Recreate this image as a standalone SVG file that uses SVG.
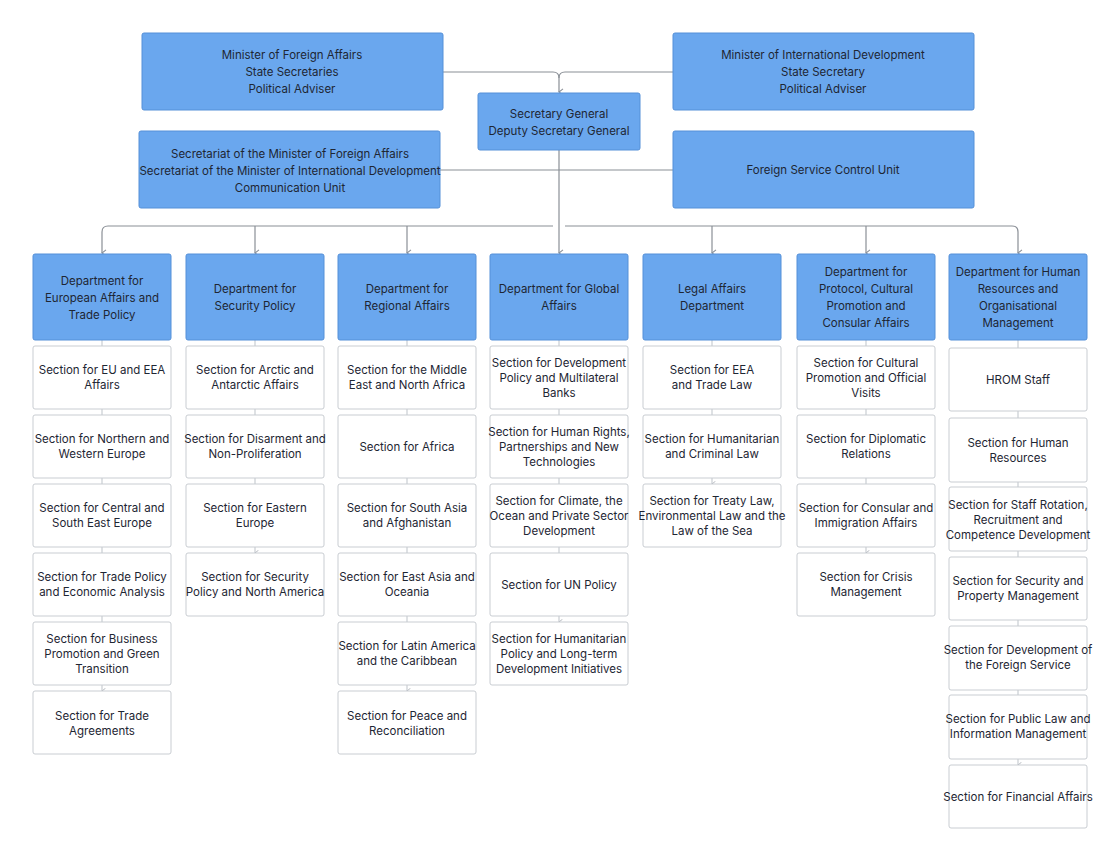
<svg xmlns="http://www.w3.org/2000/svg" width="1120" height="861" viewBox="0 0 1120 861">
<defs>
<style>
text{font-family:Inter,"Noto Sans",sans-serif;font-size:11.5px;fill:#1e2633;text-anchor:middle}
.b{fill:#6aa7ee;stroke:#5590d8;stroke-width:1}
.s{fill:#fff;stroke:#c9cdd2;stroke-width:1}
.c{fill:none;stroke:#8a8f96;stroke-width:1.2}
.l{fill:none;stroke:#c9cdd2;stroke-width:1.2}
</style>
<marker id="a" viewBox="0 0 10 10" refX="5" refY="9" markerWidth="8" markerHeight="8" orient="auto-start-reverse" markerUnits="userSpaceOnUse"><path d="M1,4 L5,9 L9,4" fill="none" stroke="#8a8f96" stroke-width="1.3"/></marker>
<marker id="a2" viewBox="0 0 10 10" refX="5" refY="9" markerWidth="7" markerHeight="7" orient="auto" markerUnits="userSpaceOnUse"><path d="M1,4 L5,9 L9,4" fill="none" stroke="#b0b5bb" stroke-width="1.3"/></marker>
</defs>
<rect width="1120" height="861" fill="#fff"/>
<g id="connectors">
<path class="c" d="M443,72 H553 Q559,72 559,78 V92" marker-end="url(#a)"/>
<path class="c" d="M673,72 H565 Q559,72 559,78"/>
<path class="c" d="M440,170 H673"/>
<path class="c" d="M559,150 V253" marker-end="url(#a)"/>
<path class="c" d="M553,226 H108 Q102,226 102,232 V253" marker-end="url(#a)"/>
<path class="c" d="M565,226 H1012 Q1018,226 1018,232 V253" marker-end="url(#a)"/>
<path class="c" d="M255,226 V253" marker-end="url(#a)"/>
<path class="c" d="M407,226 V253" marker-end="url(#a)"/>
<path class="c" d="M712,226 V253" marker-end="url(#a)"/>
<path class="c" d="M866,226 V253" marker-end="url(#a)"/>
<g class="l">
<path d="M102,340V346M102,409V415M102,478V484M102,547V553M102,616V622"/><path d="M102,685V691" marker-end="url(#a2)"/>
<path d="M255,340V346M255,409V415M255,478V484"/><path d="M255,547V553" marker-end="url(#a2)"/>
<path d="M407,340V346M407,409V415M407,478V484M407,547V553M407,616V622"/><path d="M407,685V691" marker-end="url(#a2)"/>
<path d="M559,340V346M559,409V415M559,478V484M559,547V553"/><path d="M559,616V622" marker-end="url(#a2)"/>
<path d="M712,340V346M712,409V415"/><path d="M712,478V484" marker-end="url(#a2)"/>
<path d="M866,340V346M866,409V415M866,478V484"/><path d="M866,547V553" marker-end="url(#a2)"/>
<path d="M1018,340V348M1018,411V418M1018,482V487M1018,551V557M1018,620V626M1018,690V695"/><path d="M1018,759V765" marker-end="url(#a2)"/>
</g>
</g>
<g id="top">
<g id="mfa"><rect class="b" x="142" y="33" width="301" height="77" rx="2"/><text x="292" y="59">Minister of Foreign Affairs</text><text x="292" y="76">State Secretaries</text><text x="292" y="93">Political Adviser</text></g>
<g id="mid"><rect class="b" x="673" y="33" width="301" height="77" rx="2"/><text x="823" y="59">Minister of International Development</text><text x="823" y="76">State Secretary</text><text x="823" y="93">Political Adviser</text></g>
<g id="sg"><rect class="b" x="478" y="93" width="162" height="57" rx="2"/><text x="559" y="118">Secretary General</text><text x="559" y="135">Deputy Secretary General</text></g>
<g id="sec"><rect class="b" x="139" y="131" width="301" height="77" rx="2"/><text x="290" y="158">Secretariat of the Minister of Foreign Affairs</text><text x="290" y="175">Secretariat of the Minister of International Development</text><text x="290" y="192">Communication Unit</text></g>
<g id="fscu"><rect class="b" x="673" y="131" width="301" height="77" rx="2"/><text x="823" y="174">Foreign Service Control Unit</text></g>
</g>
<g id="departments">
<g id="d1"><rect class="b" x="33" y="254" width="138" height="86" rx="2"/><text x="102" y="285">Department for</text><text x="102" y="302">European Affairs and</text><text x="102" y="319">Trade Policy</text></g>
<g id="d2"><rect class="b" x="186" y="254" width="138" height="86" rx="2"/><text x="255" y="293">Department for</text><text x="255" y="310">Security Policy</text></g>
<g id="d3"><rect class="b" x="338" y="254" width="138" height="86" rx="2"/><text x="407" y="293">Department for</text><text x="407" y="310">Regional Affairs</text></g>
<g id="d4"><rect class="b" x="490" y="254" width="138" height="86" rx="2"/><text x="559" y="293">Department for Global</text><text x="559" y="310">Affairs</text></g>
<g id="d5"><rect class="b" x="643" y="254" width="138" height="86" rx="2"/><text x="712" y="293">Legal Affairs</text><text x="712" y="310">Department</text></g>
<g id="d6"><rect class="b" x="797" y="254" width="138" height="86" rx="2"/><text x="866" y="276">Department for</text><text x="866" y="293">Protocol, Cultural</text><text x="866" y="310">Promotion and</text><text x="866" y="327">Consular Affairs</text></g>
<g id="d7"><rect class="b" x="949" y="254" width="138" height="86" rx="2"/><text x="1018" y="276">Department for Human</text><text x="1018" y="293">Resources and</text><text x="1018" y="310">Organisational</text><text x="1018" y="327">Management</text></g>
</g>
<g id="sections">
<g><rect class="s" x="33" y="346" width="138" height="63" rx="2"/><text x="102" y="374">Section for EU and EEA</text><text x="102" y="389">Affairs</text></g>
<g><rect class="s" x="33" y="415" width="138" height="63" rx="2"/><text x="102" y="443">Section for Northern and</text><text x="102" y="458">Western Europe</text></g>
<g><rect class="s" x="33" y="484" width="138" height="63" rx="2"/><text x="102" y="512">Section for Central and</text><text x="102" y="527">South East Europe</text></g>
<g><rect class="s" x="33" y="553" width="138" height="63" rx="2"/><text x="102" y="581">Section for Trade Policy</text><text x="102" y="596">and Economic Analysis</text></g>
<g><rect class="s" x="33" y="622" width="138" height="63" rx="2"/><text x="102" y="643">Section for Business</text><text x="102" y="658">Promotion and Green</text><text x="102" y="673">Transition</text></g>
<g><rect class="s" x="33" y="691" width="138" height="63" rx="2"/><text x="102" y="720">Section for Trade</text><text x="102" y="735">Agreements</text></g>

<g><rect class="s" x="186" y="346" width="138" height="63" rx="2"/><text x="255" y="374">Section for Arctic and</text><text x="255" y="389">Antarctic Affairs</text></g>
<g><rect class="s" x="186" y="415" width="138" height="63" rx="2"/><text x="255" y="443">Section for Disarment and</text><text x="255" y="458">Non-Proliferation</text></g>
<g><rect class="s" x="186" y="484" width="138" height="63" rx="2"/><text x="255" y="512">Section for Eastern</text><text x="255" y="527">Europe</text></g>
<g><rect class="s" x="186" y="553" width="138" height="63" rx="2"/><text x="255" y="581">Section for Security</text><text x="255" y="596">Policy and North America</text></g>

<g><rect class="s" x="338" y="346" width="138" height="63" rx="2"/><text x="407" y="374">Section for the Middle</text><text x="407" y="389">East and North Africa</text></g>
<g><rect class="s" x="338" y="415" width="138" height="63" rx="2"/><text x="407" y="451">Section for Africa</text></g>
<g><rect class="s" x="338" y="484" width="138" height="63" rx="2"/><text x="407" y="512">Section for South Asia</text><text x="407" y="527">and Afghanistan</text></g>
<g><rect class="s" x="338" y="553" width="138" height="63" rx="2"/><text x="407" y="581">Section for East Asia and</text><text x="407" y="596">Oceania</text></g>
<g><rect class="s" x="338" y="622" width="138" height="63" rx="2"/><text x="407" y="650">Section for Latin America</text><text x="407" y="665">and the Caribbean</text></g>
<g><rect class="s" x="338" y="691" width="138" height="63" rx="2"/><text x="407" y="720">Section for Peace and</text><text x="407" y="735">Reconciliation</text></g>

<g><rect class="s" x="490" y="346" width="138" height="63" rx="2"/><text x="559" y="367">Section for Development</text><text x="559" y="382">Policy and Multilateral</text><text x="559" y="397">Banks</text></g>
<g><rect class="s" x="490" y="415" width="138" height="63" rx="2"/><text x="559" y="436">Section for Human Rights,</text><text x="559" y="451">Partnerships and New</text><text x="559" y="466">Technologies</text></g>
<g><rect class="s" x="490" y="484" width="138" height="63" rx="2"/><text x="559" y="505">Section for Climate, the</text><text x="559" y="520">Ocean and Private Sector</text><text x="559" y="535">Development</text></g>
<g><rect class="s" x="490" y="553" width="138" height="63" rx="2"/><text x="559" y="589">Section for UN Policy</text></g>
<g><rect class="s" x="490" y="622" width="138" height="63" rx="2"/><text x="559" y="643">Section for Humanitarian</text><text x="559" y="658">Policy and Long-term</text><text x="559" y="673">Development Initiatives</text></g>

<g><rect class="s" x="643" y="346" width="138" height="63" rx="2"/><text x="712" y="374">Section for EEA</text><text x="712" y="389">and Trade Law</text></g>
<g><rect class="s" x="643" y="415" width="138" height="63" rx="2"/><text x="712" y="443">Section for Humanitarian</text><text x="712" y="458">and Criminal Law</text></g>
<g><rect class="s" x="643" y="484" width="138" height="63" rx="2"/><text x="712" y="505">Section for Treaty Law,</text><text x="712" y="520">Environmental Law and the</text><text x="712" y="535">Law of the Sea</text></g>

<g><rect class="s" x="797" y="346" width="138" height="63" rx="2"/><text x="866" y="367">Section for Cultural</text><text x="866" y="382">Promotion and Official</text><text x="866" y="397">Visits</text></g>
<g><rect class="s" x="797" y="415" width="138" height="63" rx="2"/><text x="866" y="443">Section for Diplomatic</text><text x="866" y="458">Relations</text></g>
<g><rect class="s" x="797" y="484" width="138" height="63" rx="2"/><text x="866" y="512">Section for Consular and</text><text x="866" y="527">Immigration Affairs</text></g>
<g><rect class="s" x="797" y="553" width="138" height="63" rx="2"/><text x="866" y="581">Section for Crisis</text><text x="866" y="596">Management</text></g>

<g><rect class="s" x="949" y="348" width="138" height="63" rx="2"/><text x="1018" y="384">HROM Staff</text></g>
<g><rect class="s" x="949" y="418" width="138" height="64" rx="2"/><text x="1018" y="447">Section for Human</text><text x="1018" y="462">Resources</text></g>
<g><rect class="s" x="949" y="487" width="138" height="64" rx="2"/><text x="1018" y="509">Section for Staff Rotation,</text><text x="1018" y="524">Recruitment and</text><text x="1018" y="539">Competence Development</text></g>
<g><rect class="s" x="949" y="557" width="138" height="63" rx="2"/><text x="1018" y="585">Section for Security and</text><text x="1018" y="600">Property Management</text></g>
<g><rect class="s" x="949" y="626" width="138" height="64" rx="2"/><text x="1018" y="654">Section for Development of</text><text x="1018" y="669">the Foreign Service</text></g>
<g><rect class="s" x="949" y="695" width="138" height="64" rx="2"/><text x="1018" y="723">Section for Public Law and</text><text x="1018" y="738">Information Management</text></g>
<g><rect class="s" x="949" y="765" width="138" height="63" rx="2"/><text x="1018" y="801">Section for Financial Affairs</text></g>
</g>
</svg>
